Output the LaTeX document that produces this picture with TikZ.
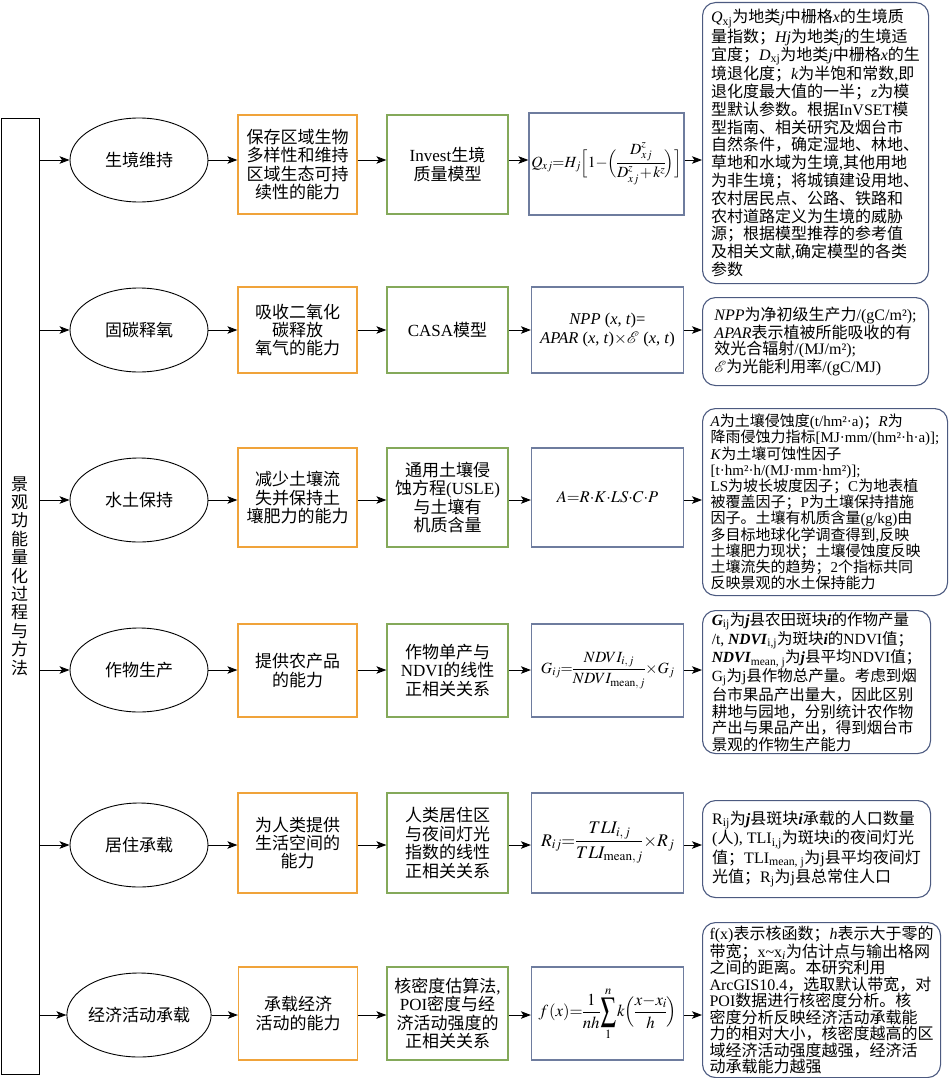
\documentclass[tikz,border=0pt]{standalone}
\usepackage{amsmath}
\usepackage{mathptmx}
\usepackage{graphicx}
\usepackage[no-math]{fontspec}
\setmainfont{Liberation Serif}
\newfontfamily\cjkfont{Noto Sans CJK SC}
\usetikzlibrary{shapes.geometric,arrows.meta}
\makeatletter
\def\cjkrange#1#2#3{\count@=#1\relax
 \loop\XeTeXcharclass\count@=#3\relax
 \ifnum\count@<#2\relax\advance\count@\@ne\repeat}
\cjkrange{"0021}{"00FF}{0}
\cjkrange{"2000}{"206F}{0}
\cjkrange{"3000}{"303F}{7}
\cjkrange{"4E00}{"9FFF}{7}
\cjkrange{"FF00}{"FFEF}{7}
\makeatother
\XeTeXinterchartokenstate=1
\XeTeXinterchartoks 0 7 = {\begingroup\cjkfont}
\XeTeXinterchartoks 4095 7 = {\begingroup\cjkfont}
\XeTeXinterchartoks 7 0 = {\endgroup}
\XeTeXinterchartoks 7 4095 = {\endgroup}
\newcommand\fsA{\fontsize{17}{18.4}\selectfont}
\newcommand\fsF{\fontsize{16.5}{18.5}\selectfont}
\newcommand\tightmath{\fontsize{10}{12}\selectfont\medmuskip=1.5mu\thickmuskip=1.5mu\thinmuskip=1mu\nulldelimiterspace=0pt\scriptspace=0pt}
\newcommand\bigsum{\mathop{\vcenter{\hbox{\scalebox{0.9}[1.4]{$\displaystyle\sum$}}}}\limits}
\definecolor{orangec}{HTML}{F0A33A}
\definecolor{greenc}{HTML}{84A95A}
\definecolor{bluec}{HTML}{6E7C9E}
\definecolor{rboxc}{HTML}{4C5A80}
\tikzset{
 ell/.style={draw, ellipse, line width=0.9pt, minimum width=138, minimum height=84, inner sep=0pt, font=\fsA},
 obox/.style={draw=orangec, line width=1.2pt, minimum width=119, align=center, inner sep=2pt, font=\fsA},
 gbox/.style={draw=greenc, line width=1.2pt, minimum width=121, align=center, inner sep=2pt, font=\fsA},
 bbox/.style={draw=bluec, line width=1.2pt, minimum width=152, align=center, inner sep=1pt, font=\fsF},
 rbox/.style={draw=rboxc, line width=1.1pt, rounded corners=13pt, align=left, anchor=north west, inner sep=0pt},
 arr/.style={-{Stealth[length=10pt,width=7.5pt,inset=2.5pt]}, line width=0.9pt}
}
\begin{document}
\begin{tikzpicture}[x=1pt,y=-1pt]
\useasboundingbox (0,0) rectangle (950,1078);
% left box
\node[draw, line width=1.2pt, minimum width=38.5, minimum height=956, anchor=north west, inner sep=0pt] (L) at (0.6,118) {};
\node[align=center, font=\fsA, inner sep=0pt] (title) at (19.5,576) {景\\观\\功\\能\\量\\化\\过\\程\\与\\方\\法};
% ellipses
\node[ell] (e1) at (139,160) {生境维持};
\node[ell] (e2) at (139,330) {固碳释氧};
\node[ell] (e3) at (139,500) {水土保持};
\node[ell] (e4) at (139,670) {作物生产};
\node[ell] (e5) at (139,845) {居住承载};
\node[ell] (e6) at (139,1015) {经济活动承载};
% orange boxes
\node[obox, minimum height=99] (o1) at (297.5,164.5) {保存区域生物\\多样性和维持\\区域生态可持\\续性的能力};
\node[obox, minimum height=86] (o2) at (297.5,330) {吸收二氧化\\碳释放\\氧气的能力};
\node[obox, minimum height=99] (o3) at (297.5,497.5) {减少土壤流\\失并保持土\\壤肥力的能力};
\node[obox, minimum height=93] (o4) at (297.5,670.5) {提供农产品\\的能力};
\node[obox, minimum height=100] (o5) at (297.5,843) {为人类提供\\生活空间的\\能力};
\node[obox, minimum height=93] (o6) at (298,1013.5) {承载经济\\活动的能力};
% green boxes
\node[gbox, minimum height=99] (g1) at (447.5,164.5) {Invest生境\\质量模型};
\node[gbox, minimum height=86] (g2) at (447.5,330) {CASA模型};
\node[gbox, minimum height=99] (g3) at (447.5,497.5) {通用土壤侵\\蚀方程(USLE)\\与土壤有\\机质含量};
\node[gbox, minimum height=93] (g4) at (447.5,670.5) {作物单产与\\NDVI的线性\\正相关关系};
\node[gbox, minimum height=100] (g5) at (447.5,843) {人类居住区\\与夜间灯光\\指数的线性\\正相关关系};
\node[gbox, minimum height=93] (g6) at (447.5,1013.5) {核密度估算法,\\POI密度与经\\济活动强度的\\正相关关系};
% blue formula boxes
\node[bbox, minimum height=102, minimum width=155] (b1) at (606.5,164) {\resizebox{150pt}{!}{\tightmath$Q_{\!xj}{=}H_j\Bigl[1{-}\Bigl(\dfrac{D_{xj}^{z}}{D_{xj}^{z}+k^{z}}\Bigr)\Bigr]$}};
\node[bbox, minimum height=86] (b2) at (607.5,330) {\textit{NPP} (\textit{x}, \textit{t})=\\\textit{APAR} (\textit{x}, \textit{t})$\times\mathcal{E}$ (\textit{x}, \textit{t})};
\node[bbox, minimum height=99] (b3) at (607.5,497.5) {$A{=}R{\cdot}K{\cdot}LS{\cdot}C{\cdot}P$};
\node[bbox, minimum height=93] (b4) at (607.5,670.5) {\resizebox{133pt}{!}{\tightmath$G_{ij}{=}\dfrac{NDVI_{i,\,j}}{NDVI_{\mathrm{mean},\,j}}\,{\times}G_j$}};
\node[bbox, minimum height=100] (b5) at (607.5,843) {\resizebox{133pt}{!}{\tightmath$R_{ij}{=}\,\dfrac{\;TLI_{i,\,j}\;}{TLI_{\mathrm{mean},\,j}}\,{\times}R_j$}};
\node[bbox, minimum height=93] (b6) at (607.5,1013.5) {\resizebox{138pt}{!}{\tightmath$f\,(x){=}\dfrac{1}{nh}\bigsum_{1}^{n}k\Bigl(\dfrac{x{-}x_i}{h}\Bigr)$}};
% right text boxes
\node[rbox, minimum width=226, minimum height=281, font=\fontsize{16}{17.8}\selectfont] (t1) at (702,2) {%
\textit{Q}\textsubscript{xj}为地类\textit{j}中栅格\textit{x}的生境质\\
量指数；\textit{Hj}为地类\textit{j}的生境适\\
宜度；\textit{D}\textsubscript{xj}为地类\textit{j}中栅格\textit{x}的生\\
境退化度；\textit{k}为半饱和常数,即\\
退化度最大值的一半；\textit{z}为模\\
型默认参数。根据InVSET模\\
型指南、相关研究及烟台市\\
自然条件，确定湿地、林地、\\
草地和水域为生境,其他用地\\
为非生境；将城镇建设用地、\\
农村居民点、公路、铁路和\\
农村道路定义为生境的威胁\\
源；根据模型推荐的参考值\\
及相关文献,确定模型的各类\\
参数};
\node[rbox, minimum width=226, minimum height=88, font=\fontsize{16}{16.7}\selectfont] (t2) at (702,297) {%
\textit{NPP}为净初级生产力/(gC/m²);\\
\textit{APAR}表示植被所能吸收的有\\
效光合辐射/(MJ/m²);\\
$\mathcal{E}$为光能利用率/(gC/MJ)};
\node[rbox, minimum width=245, minimum height=187, font=\fontsize{15}{16.2}\selectfont] (t3) at (702,408) {%
\textit{A}为土壤侵蚀度(t/hm²·a)；\textit{R}为\\
降雨侵蚀力指标{[}MJ·mm/(hm²·h·a){]};\\
\textit{K}为土壤可蚀性因子\\
{[}t·hm²·h/(MJ·mm·hm²){]};\\
LS为坡长坡度因子；C为地表植\\
被覆盖因子；P为土壤保持措施\\
因子。土壤有机质含量(g/kg)由\\
多目标地球化学调查得到,反映\\
土壤肥力现状；土壤侵蚀度反映\\
土壤流失的趋势；2个指标共同\\
反映景观的水土保持能力};
\node[rbox, minimum width=228, minimum height=143, font=\fontsize{15.5}{16.7}\selectfont] (t4) at (702,610) {%
\textbf{\textit{G}}\textsubscript{ij}为\textbf{\textit{j}}县农田斑块\textbf{\textit{i}}的作物产量\\
/t, \textbf{\textit{NDVI}}\textsubscript{i,j}为斑块\textbf{\textit{i}}的NDVI值；\\
\textbf{\textit{NDVI}}\textsubscript{mean, j}为\textbf{\textit{j}}县平均NDVI值；\\
G\textsubscript{j}为j县作物总产量。考虑到烟\\
台市果品产出量大，因此区别\\
耕地与园地，分别统计农作物\\
产出与果品产出，得到烟台市\\
景观的作物生产能力};
\node[rbox, minimum width=228, minimum height=97, font=\fontsize{16}{16.7}\selectfont] (t5) at (702,800) {%
R\textsubscript{ij}为\textbf{\textit{j}}县斑块\textbf{\textit{i}}承载的人口数量\\
(人), TLI\textsubscript{i,j}为斑块i的夜间灯光\\
值；TLI\textsubscript{mean, j}为j县平均夜间灯\\
光值；R\textsubscript{j}为j县总常住人口};
\node[rbox, minimum width=238, minimum height=155, font=\fontsize{16}{16.5}\selectfont] (t6) at (702,922) {%
f(x)表示核函数；\textit{h}表示大于零的\\
带宽；x\textasciitilde x\textsubscript{\textit{i}}为估计点与输出格网\\
之间的距离。本研究利用\\
ArcGIS10.4，选取默认带宽，对\\
POI数据进行核密度分析。核\\
密度分析反映经济活动承载能\\
力的相对大小，核密度越高的区\\
域经济活动强度越强，经济活\\
动承载能力越强};
% arrows
\foreach \i in {1,...,6}{
 \draw[arr] (L.east |- e\i.west) -- (e\i.west);
 \draw[arr] (e\i.east) -- (o\i.west |- e\i.east);
 \draw[arr] (o\i.east |- e\i.east) -- (g\i.west |- e\i.east);
 \draw[arr] (g\i.east |- e\i.east) -- (b\i.west |- e\i.east);
 \draw[arr] (b\i.east |- e\i.east) -- (t\i.west |- e\i.east);
}
\end{tikzpicture}
\end{document}
